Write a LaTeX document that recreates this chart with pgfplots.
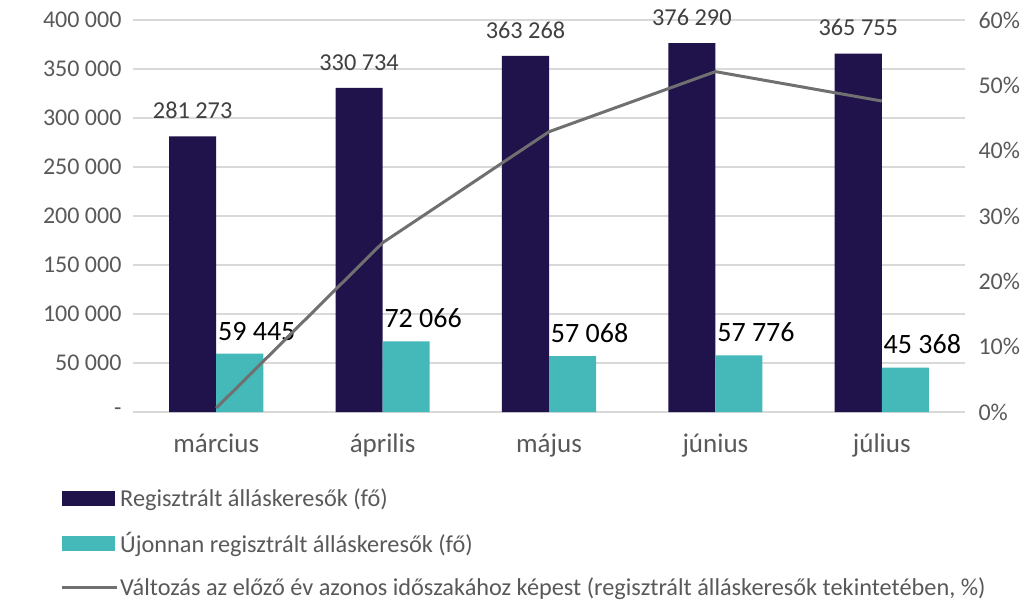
\documentclass[border=0pt]{standalone}
\usepackage{fontspec}
\setmainfont{Carlito}
\usepackage{pgfplots}
\pgfplotsset{compat=1.18}
\definecolor{navy}{HTML}{20124A}
\definecolor{teal2}{HTML}{45B9BA}
\definecolor{linegray}{HTML}{707070}
\definecolor{gridc}{HTML}{D9D9D9}
\definecolor{labc}{HTML}{595959}
\definecolor{darklab}{HTML}{404040}
\newcommand{\fnt}{\fontsize{24.3}{28}\selectfont}
\newcommand{\yfnt}{\fontsize{24}{28}\selectfont}
\newcommand{\xfnt}{\fontsize{27}{31}\selectfont}
\newcommand{\bfnt}{\fontsize{28}{32}\selectfont}
\begin{document}
\begin{tikzpicture}[x=1pt,y=1pt]
\useasboundingbox (-133,-188) rectangle (899,412);
\begin{axis}[at={(0,0)}, anchor=south west,
  width=832pt, height=392pt, scale only axis,
  xmin=-0.5, xmax=4.5, ymin=0, ymax=400000,
  scaled y ticks=false,
  axis line style={draw=none}, major tick length=0pt,
  ytick={0,50000,...,400000},
  yticklabels={-,50 000,100 000,150 000,200 000,250 000,300 000,350 000,400 000},
  xtick={0,1,2,3,4},
  xticklabels={március,április,május,június,július},
  yticklabel style={font=\yfnt, text=labc, xshift=-8pt},
  xticklabel style={font=\xfnt, text=labc, yshift=-18pt},
  ymajorgrids, grid style={gridc, line width=1.5pt},
  ybar, bar width=0.283,
  clip=false,
]
\addplot[fill=navy, draw=none, bar shift=-0.1415,
  nodes near coords, point meta=explicit symbolic,
  every node near coord/.append style={font=\fnt, text=darklab, yshift=14pt}]
  coordinates {(0,281273) [281 273] (1,330734) [330 734] (2,363268) [363 268] (3,376290) [376 290] (4,365755) [365 755]};
\addplot[fill=teal2, draw=none, bar shift=0.1415,
  nodes near coords, point meta=explicit symbolic,
  every node near coord/.append style={font=\bfnt, text=black, yshift=10pt, xshift=17pt}]
  coordinates {(0,59445) [59 445] (1,72066) [72 066] (2,57068) [57 068] (3,57776) [57 776] (4,45368) [45 368]};
\end{axis}
\begin{axis}[at={(0,0)}, anchor=south west,
  width=832pt, height=392pt, scale only axis,
  xmin=-0.5, xmax=4.5, ymin=0, ymax=60,
  axis line style={draw=none}, major tick length=0pt,
  axis y line*=right, axis x line=none,
  ytick={0,10,...,60},
  yticklabels={0\%,10\%,20\%,30\%,40\%,50\%,60\%},
  yticklabel style={font=\yfnt, text=labc, xshift=10pt},
  clip=false,
  legend style={at={(axis description cs:-0.0913,-0.185)}, anchor=north west,
    draw=none, fill=none, font=\fnt, text=labc, row sep=20pt,
    /tikz/every even column/.append style={column sep=2pt}},
  legend cell align=left,
]
\addlegendimage{legend image code/.code={\fill[navy] (0pt,-7pt) rectangle (52pt,7pt);}}
\addlegendentry{Regisztrált álláskeresők (fő)}
\addlegendimage{legend image code/.code={\fill[teal2] (0pt,-7pt) rectangle (52pt,7pt);}}
\addlegendentry{Újonnan regisztrált álláskeresők (fő)}
\addplot[linegray, line width=3pt, legend image code/.code={\draw[linegray,line width=3pt] (0pt,0pt)--(55pt,0pt);}]
  coordinates {(0,0.6) (1,25.9) (2,42.9) (3,52.1) (4,47.6)};
\addlegendentry{Változás az előző év azonos időszakához képest (regisztrált álláskeresők tekintetében, \%)}
\end{axis}
\end{tikzpicture}
\end{document}
